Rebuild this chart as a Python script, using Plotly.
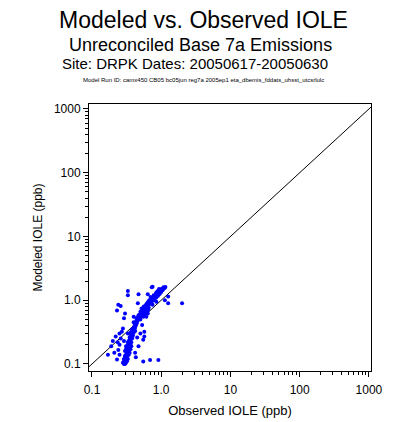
import plotly.graph_objects as go

# Observed (x) vs Modeled (y) IOLE, ppb
obs = [
    0.29, 0.30, 0.31, 0.30, 0.32, 0.29, 0.31, 0.33, 0.30,
    0.32, 0.30, 0.34, 0.31, 0.33, 0.35, 0.32,
    0.34, 0.33, 0.36, 0.34, 0.35, 0.37, 0.33, 0.36,
    0.35, 0.37, 0.34, 0.36, 0.38, 0.35, 0.37, 0.39, 0.36, 0.38,
    0.40, 0.37, 0.39, 0.41, 0.38, 0.40, 0.42, 0.41, 0.43,
    0.42, 0.44, 0.43, 0.45, 0.44, 0.46,
    0.47, 0.45, 0.48, 0.50, 0.47, 0.49, 0.52,
    0.51, 0.54, 0.50, 0.53, 0.57, 0.55, 0.52, 0.58, 0.60, 0.56, 0.63,
    0.60, 0.65, 0.62, 0.68, 0.64, 0.70, 0.74, 0.67, 0.78,
    0.72, 0.80, 0.76, 0.85, 0.70, 0.82, 0.90, 0.78, 0.87, 0.95,
    0.84, 0.92, 1.00, 0.88, 0.96, 1.05, 0.93, 1.02, 1.10, 1.08, 1.15,
    0.50, 0.55, 0.60, 0.65, 0.75, 0.85, 0.62, 0.58, 0.72, 0.66,
    0.31, 0.32, 0.33, 0.30, 0.34, 0.35, 0.36, 0.31, 0.33,
    0.23, 0.24, 0.26, 0.33, 0.33, 0.46, 0.47, 0.64, 0.73, 0.75,
    0.40, 0.30, 0.29, 0.53, 0.57, 0.57, 1.26, 1.13, 1.26, 2.00,
    0.17, 0.20, 0.235, 0.24, 0.25, 0.23, 0.27, 0.25, 0.29, 0.31, 0.25,
    0.22, 0.21, 0.26, 0.28, 0.19,
    0.91, 0.69, 0.55, 0.43, 0.47, 0.55, 0.42, 0.61, 0.64, 0.50, 0.45,
    0.28, 0.29, 0.30, 0.31, 0.32, 0.34, 0.35, 0.37, 0.39, 0.41,
    0.44, 0.46, 0.49, 0.53, 0.56, 0.61, 0.66, 0.71, 0.77, 0.83,
    0.89, 0.97, 1.04, 1.12, 0.38, 0.42, 0.33, 0.36, 0.40, 0.44,
]
mod = [
    0.10, 0.10, 0.105, 0.11, 0.11, 0.115, 0.12, 0.12, 0.125,
    0.13, 0.135, 0.14, 0.14, 0.15, 0.15, 0.155,
    0.16, 0.17, 0.17, 0.18, 0.19, 0.19, 0.20, 0.20,
    0.21, 0.22, 0.23, 0.24, 0.25, 0.26, 0.27, 0.28, 0.29, 0.30,
    0.31, 0.32, 0.33, 0.34, 0.35, 0.36, 0.37, 0.39, 0.40,
    0.42, 0.43, 0.45, 0.46, 0.48, 0.50,
    0.52, 0.53, 0.55, 0.56, 0.58, 0.60, 0.60,
    0.62, 0.64, 0.66, 0.68, 0.68, 0.72, 0.74, 0.74, 0.78, 0.80, 0.80,
    0.84, 0.85, 0.88, 0.90, 0.93, 0.95, 0.97, 1.00, 1.00,
    1.03, 1.05, 1.08, 1.10, 1.12, 1.15, 1.18, 1.20, 1.24, 1.25,
    1.30, 1.32, 1.35, 1.38, 1.42, 1.45, 1.50, 1.52, 1.55, 1.60, 1.62,
    0.50, 0.55, 0.65, 0.70, 0.85, 0.95, 0.70, 0.62, 0.88, 0.76,
    0.11, 0.125, 0.14, 0.16, 0.18, 0.22, 0.25, 0.19, 0.30,
    0.69, 0.85, 0.81, 1.40, 1.20, 0.90, 1.24, 1.24, 1.60, 1.63,
    0.55, 0.62, 0.52, 0.41, 0.27, 0.32, 1.14, 1.00, 0.90, 0.90,
    0.14, 0.23, 0.22, 0.166, 0.20, 0.118, 0.32, 0.30, 0.23, 0.17, 0.14,
    0.27, 0.15, 0.25, 0.36, 0.19,
    0.116, 0.116, 0.109, 0.127, 0.19, 0.24, 0.15, 0.55, 0.62, 0.30, 0.26,
    0.105, 0.12, 0.13, 0.16, 0.18, 0.21, 0.24, 0.28, 0.33, 0.38,
    0.44, 0.49, 0.56, 0.63, 0.70, 0.77, 0.86, 0.94, 1.02, 1.12,
    1.22, 1.33, 1.44, 1.55, 0.26, 0.33, 0.22, 0.31, 0.45, 0.52,
]

# Larger open-circle points
obs_open = [1.15, 1.90, 0.47, 0.44, 0.29]
mod_open = [1.60, 1.65, 0.45, 0.38, 0.10]

# 1:1 reference line
ref_line = [0.05, 2000]

major_vals = [0.1, 1, 10, 100, 1000]
major_text = ["0.1", "1.0", "10", "100", "1000"]
minor_vals = [m * d for d in [0.1, 1, 10, 100] for m in range(2, 10)]

BLUE = "#0000ff"
FONT = "Liberation Sans, Arial, sans-serif"

fig = go.Figure()
fig.add_trace(go.Scatter(x=ref_line, y=ref_line, mode="lines",
                         line=dict(color="black", width=1), hoverinfo="skip"))
fig.add_trace(go.Scatter(x=obs, y=mod, mode="markers",
                         marker=dict(color=BLUE, size=4, line=dict(width=0))))
fig.add_trace(go.Scatter(x=obs_open, y=mod_open, mode="markers",
                         marker=dict(color="rgba(0,0,0,0)", size=8, symbol="circle-open",
                                     line=dict(color=BLUE, width=1.5))))

axis_common = dict(
    type="log", showgrid=False, zeroline=False,
    showline=True, linecolor="black", linewidth=1, mirror=True,
    ticks="outside", ticklen=5, tickcolor="black",
    tickmode="array", tickvals=major_vals, ticktext=major_text,
    tickfont=dict(family=FONT, size=12, color="black"),
    minor=dict(ticks="outside", ticklen=3, tickcolor="black", tickmode="array",
               tickvals=minor_vals, showgrid=False),
)

fig.update_layout(
    width=398, height=422,
    margin=dict(l=89, r=27, t=104, b=51),
    paper_bgcolor="white", plot_bgcolor="white",
    showlegend=False,
    font=dict(family=FONT, color="black"),
    xaxis=dict(axis_common, range=[-1.043, 3.03], ticklabelstandoff=3,
               title=dict(text="Observed IOLE (ppb)", font=dict(family=FONT, size=13),
                          standoff=9)),
    yaxis=dict(axis_common, range=[-1.11, 3.078],
               title=dict(text="Modeled IOLE (ppb)", font=dict(family=FONT, size=12),
                          standoff=8)),
)
fig.update_xaxes(automargin=False)
fig.update_yaxes(automargin=False)

def yp(py):
    return (371 - py) / 267.0

def xp(px):
    return (px - 89) / 282.0

titles = [
    ("Modeled vs. Observed IOLE", 23, 203.5, 20),
    ("Unreconciled Base 7a Emissions", 18, 200, 45),
    ("Site: DRPK Dates: 20050617-20050630", 15, 195, 63),
    ("Model Run ID: camx450 CB05 bc05jun reg7a 2005ep1 eta_dbemis_fddats_uhsst_utcsrlulc", 6, 203, 80),
]
for text, size, cx, cy in titles:
    fig.add_annotation(text=text, xref="paper", yref="paper", x=xp(cx), y=yp(cy),
                       xanchor="center", yanchor="middle", showarrow=False,
                       font=dict(family=FONT, size=size, color="black"))

fig.write_html("out.html", config={"displayModeBar": False},
               post_script="document.body.style.margin='0px';")
